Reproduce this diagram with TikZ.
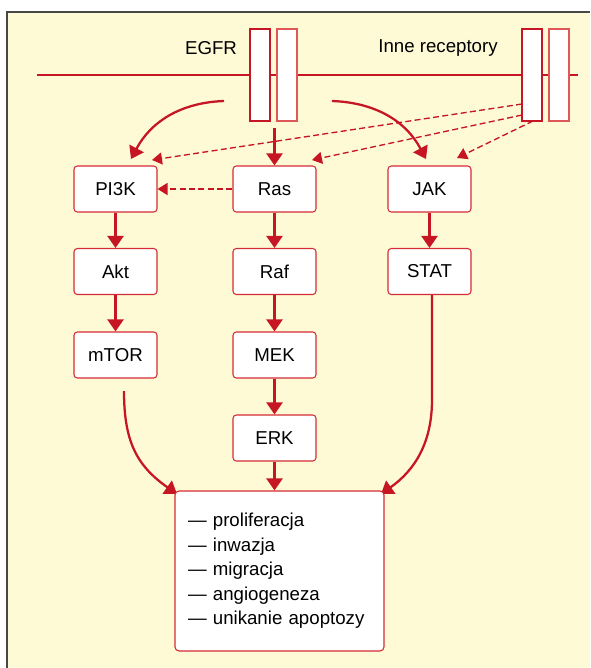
\documentclass[tikz,border=0pt]{standalone}
\usepackage{fontspec}
\setmainfont{Liberation Sans}
\usepackage{tikz}
\usetikzlibrary{arrows.meta}
\pgfdeclarelayer{bglayer}
\pgfdeclarelayer{edgelayer}
\pgfdeclarelayer{nodelayer}
\pgfsetlayers{bglayer,edgelayer,nodelayer,main}
\definecolor{bgyellow}{RGB}{255,250,214}
\definecolor{framegray}{RGB}{72,72,72}
\definecolor{arrowred}{RGB}{198,22,36}
\definecolor{boxred}{RGB}{212,44,52}
\definecolor{palered}{RGB}{222,88,88}
\tikzstyle{protein}=[rectangle,rounded corners=2.5pt,fill=white,draw=boxred,line width=0.8pt,minimum width=62.25pt,minimum height=34.5pt,inner sep=0pt]
\tikzstyle{effects}=[rectangle,rounded corners=3pt,fill=white,draw=boxred,line width=0.8pt,text width=137.25pt,inner xsep=9.75pt,minimum height=120pt,align=left]
\tikzstyle{receptor}=[rectangle,fill=white,draw=arrowred,line width=0.9pt,minimum width=15pt,minimum height=69pt,inner sep=0pt]
\tikzstyle{receptor_b}=[receptor,draw=palered]
\tikzstyle{label}=[inner sep=0pt]
\tikzstyle{signal}=[-{Triangle[length=9pt,width=12pt]},draw=arrowred,line width=1.7pt]
\tikzstyle{weak_signal}=[-{Triangle[length=7.5pt,width=9pt]},draw=arrowred,line width=1pt,dash pattern=on 4.5pt off 2.5pt]

\begin{document}
\begin{tikzpicture}[x=7.5pt,y=7.5pt,font=\fontsize{14}{18.4}\selectfont]
	\useasboundingbox (0,0) rectangle (59,-66.8);
	\begin{pgfonlayer}{bglayer}
		\fill [bgyellow] (0.7,-1.2) rectangle (59,-66.8);
		\draw [framegray, line width=1.2pt] (0.7,-66.8) -- (0.7,-1.2) -- (59,-1.2);
	\end{pgfonlayer}
	\begin{pgfonlayer}{nodelayer}
		\node [style=receptor] (0) at (26.0, -7.5) {};
		\node [style=receptor_b] (1) at (28.7, -7.5) {};
		\node [style=receptor] (2) at (53.2, -7.5) {};
		\node [style=receptor_b] (3) at (55.9, -7.5) {};
		\node [style=label] (4) at (21.1, -4.8) {EGFR};
		\node [style=label] (5) at (43.8, -4.8) {Inne receptory};
		\node [style=protein] (6) at (11.55, -18.9) {PI3K};
		\node [style=protein] (7) at (27.45, -18.9) {Ras};
		\node [style=protein] (8) at (42.95, -18.9) {JAK};
		\node [style=protein] (9) at (11.55, -27.15) {Akt};
		\node [style=protein] (10) at (27.45, -27.15) {Raf};
		\node [style=protein] (11) at (42.95, -27.15) {STAT};
		\node [style=protein] (12) at (11.55, -35.5) {mTOR};
		\node [style=protein] (13) at (27.45, -35.5) {MEK};
		\node [style=protein] (14) at (27.45, -43.8) {ERK};
		\node [style=effects] (15) at (27.95, -57.1) {— proliferacja\\— inwazja\\— migracja\\— angiogeneza\\— unikanie apoptozy};
	\end{pgfonlayer}
	\begin{pgfonlayer}{edgelayer}
		% membrane
		\draw [draw=arrowred, line width=0.8pt] (3.7, -7.5) -- (57.8, -7.5);
		\coordinate (a1) at (22.4, -10.1);
		\coordinate (a2) at (33.2, -10.1);
		\coordinate (a3) at (27.45, -12.8);
		\coordinate (b1) at (52.2, -10.4);
		\coordinate (b2) at (52.2, -11.5);
		\coordinate (b3) at (53.3, -12.1);
		\coordinate (t1) at (13.1, -15.9);
		\coordinate (t2) at (42.6, -15.9);
		\coordinate (t3) at (15.2, -16.0);
		\coordinate (t4) at (31.2, -16.0);
		\coordinate (t5) at (45.7, -15.8);
		\coordinate (m1) at (12.4, -39.1);
		\coordinate (m2) at (17.7, -49.4);
		\coordinate (s1) at (43.2, -40.0);
		\coordinate (s2) at (38.1, -49.4);
		\draw [style=signal] (a1) to [out=182, in=62] (t1);
		\draw [style=signal] (a2) to [out=-2, in=118] (t2);
		\draw [style=signal] (a3) to (7);
		\draw [style=weak_signal] (b1) to (t3);
		\draw [style=weak_signal] (b2) to (t4);
		\draw [style=weak_signal] (b3) to (t5);
		\draw [style=weak_signal] (7) to (6);
		\draw [style=signal] (6) to (9);
		\draw [style=signal] (9) to (12);
		\draw [style=signal] (7) to (10);
		\draw [style=signal] (10) to (13);
		\draw [style=signal] (13) to (14);
		\draw [style=signal] (8) to (11);
		\draw [style=signal] (14) to (14 |- 15.north);
		\draw [style=signal] (m1) to [out=-90, in=145, looseness=1.1] (m2);
		\draw [style=signal] (11.south -| s1) -- (s1) to [out=-90, in=35] (s2);
	\end{pgfonlayer}
\end{tikzpicture}
\end{document}
